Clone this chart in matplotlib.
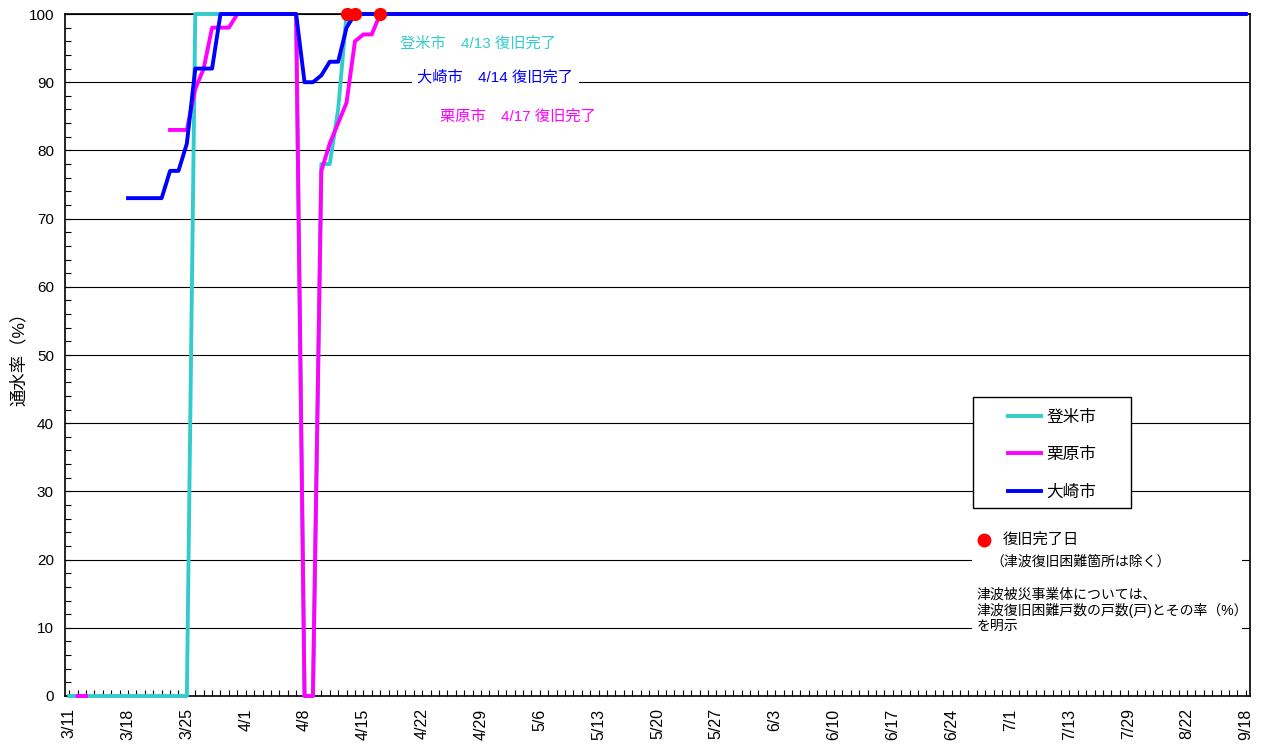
import matplotlib.pyplot as plt
import numpy as np
from matplotlib.patches import Rectangle

plt.rcParams['font.family'] = ['Liberation Sans', 'Noto Sans CJK JP']

nan = np.nan

# 横軸ラベル (7区分ごと、7/1以降は日付間隔が不揃い)
date_labels = ['3/11', '3/18', '3/25', '4/1', '4/8', '4/15', '4/22', '4/29',
               '5/6', '5/13', '5/20', '5/27', '6/3', '6/10', '6/17', '6/24',
               '7/1', '7/13', '7/29', '8/22', '9/18']
n_points = 141

# 通水率(%)  3/11 から読み取った値、その後は100%のまま
tome = [0] * 15 + [100] * 13 + [0, 0, 78, 78, 86]
kurihara = ([nan, 0, 0] + [nan] * 9 + [83, 83, 83, 89, 92, 98, 98, 98]
            + [100] * 8 + [0, 0, 77, 81, 84, 87, 96, 97, 97])
osaki = [nan] * 7 + [73] * 5 + [77, 77, 81, 92, 92, 92] + [100] * 10 + [90, 90, 91, 93, 93, 98]

# 復旧完了日 (4/13, 4/14, 4/17)
done_idx = [33, 34, 37]
done_val = [100, 100, 100]

series = [('登米市', tome, '#33CCCC'),
          ('栗原市', kurihara, '#FF00FF'),
          ('大崎市', osaki, '#0000FF')]


def pad(vals):
    return np.array(vals + [100] * (n_points - len(vals)), dtype=float)


fig = plt.figure(figsize=(12.61, 7.48), dpi=100)
ax = fig.add_axes([0.05155, 0.06952, 0.93973, 0.91176])

x = np.arange(n_points)
handles = []
for z, (name, vals, col) in enumerate(series):
    h, = ax.plot(x, pad(vals), color=col, lw=2.8, label=name, zorder=3 + z, clip_on=False)
    handles.append(h)
ax.plot(done_idx, done_val, 'o', color='#FF0000', ms=8.5, zorder=10, clip_on=False)

ax.set_xlim(-0.5, n_points - 0.5)
ax.set_ylim(0, 100)

ax.set_xticks(np.arange(0, n_points, 7))
ax.set_xticklabels(date_labels, rotation=90, fontsize=11.5)
ax.set_xticks(x, minor=True)
ax.set_yticks(np.arange(0, 101, 10))
ax.set_yticks(np.arange(0, 101, 2), minor=True)
ax.tick_params(axis='both', which='both', direction='in', length=4, width=0.8)
ax.tick_params(axis='x', which='major', pad=9)
ax.tick_params(axis='y', which='major', pad=8, labelsize=11)
ax.set_ylabel('通水率（%）', fontsize=12.5, labelpad=1)

ax.grid(axis='y', color='black', lw=0.8)
ax.set_axisbelow(True)
for s in ax.spines.values():
    s.set_linewidth(1.2)

# 復旧完了の注記
ax.text(39.4, 95.6, '登米市　4/13 復旧完了', color='#33CCCC', fontsize=11, va='center')
ax.text(41.4, 90.7, '大崎市　4/14 復旧完了', color='#0000FF', fontsize=11, va='center',
        bbox=dict(facecolor='white', edgecolor='none', pad=4))
ax.text(44.1, 85.0, '栗原市　4/17 復旧完了', color='#FF00FF', fontsize=11, va='center')

# 凡例 (枠は別に描く)
ax.add_patch(Rectangle((0.7662, 0.2757), 0.1334, 0.1627, transform=ax.transAxes,
                       facecolor='white', edgecolor='black', lw=1.0, zorder=11))
leg = ax.legend(handles=handles, loc='center left', bbox_to_anchor=(0.7958, 0.354),
                borderaxespad=0, borderpad=0, fontsize=12, handlelength=2.0,
                handletextpad=0.3, labelspacing=1.33, frameon=False)
leg.set_zorder(12)

ax.add_patch(Rectangle((0.765, 0.085), 0.228, 0.165, transform=ax.transAxes,
                       facecolor='white', edgecolor='none', zorder=1))
ax.plot([0.7755], [0.2287], 'o', color='#FF0000', ms=9, transform=ax.transAxes, zorder=11)
ax.text(0.7916, 0.2287, '復旧完了日', transform=ax.transAxes, fontsize=11, va='center', zorder=11)
ax.text(0.781, 0.197, '（津波復旧困難箇所は除く）', transform=ax.transAxes, fontsize=10,
        va='center', zorder=11)
ax.text(0.7696, 0.1585, '津波被災事業体については、\n津波復旧困難戸数の戸数(戸)とその率（%）\nを明示',
        transform=ax.transAxes, fontsize=10, va='top', linespacing=1.1, zorder=11)

fig.savefig('out.png', dpi=100)
